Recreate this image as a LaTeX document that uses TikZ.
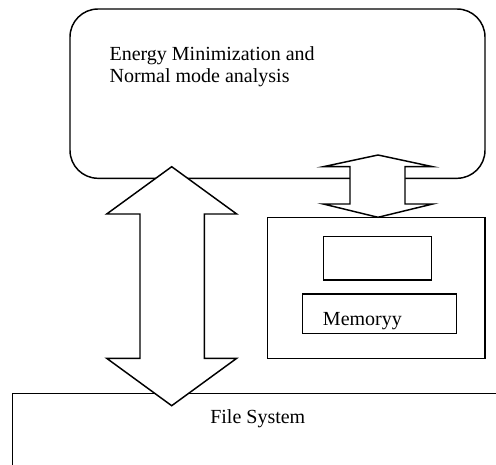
\documentclass[tikz,border=0pt]{standalone}
\usepackage{fontspec}
\setmainfont{Liberation Serif}
\usetikzlibrary{fit}
\tikzset{
  box/.style={draw, line width=1.1pt, inner sep=0pt},
  blockarrow/.style={draw, fill=white, line width=1.1pt, line join=miter},
  lbl/.style={inner sep=0pt, anchor=base west, font=\fontsize{15}{18}\selectfont},
}
\begin{document}
\begin{tikzpicture}[x=0.75pt, y=-0.75pt]
\useasboundingbox (0,0) rectangle (496,464);
\clip (0,0) rectangle (496,464);

% boxes
\node[box, rounded corners=21pt, fit={(70,9)(485,178.3)}] (engine) {};
\node[box, fit={(267.3,217.3)(485,358.3)}] (hw) {};
\node[box, fit={(323.3,236.7)(431.7,280)}] (cpu) {};
\node[box, fit={(302.3,294)(456.7,333.3)}] (mem) {};
\node[box, fit={(12.3,393.3)(520,490)}] (fs) {};

% labels
\node[lbl] (t1) at (109.3,60) {Energy Minimization and};
\node[lbl] (t2) at (109.3,82.7) {Normal mode analysis};
\node[lbl] (memlabel) at (322.7,325) {Memoryy};
\node[lbl] (fslabel) at (210,423.3) {File System};

% block arrow between the engine and the file system
\coordinate (la) at (171.7,166.7);
\coordinate (lb) at (171.7,405.7);
\draw[blockarrow] (la) -- (236.7,214) -- (204.3,214) -- (204.3,358.3)
  -- (236.7,358.3) -- (lb) -- (106.7,358.3) -- (140,358.3) -- (140,214)
  -- (106.7,214) -- cycle;

% block arrow between the engine and the hardware box
\coordinate (ra) at (378,155);
\coordinate (rb) at (378,217.3);
\draw[blockarrow] (ra) -- (432.7,166.7) -- (405,166.7) -- (405,204)
  -- (432.7,204) -- (rb) -- (323.3,204) -- (350,204) -- (350,166.7)
  -- (323.3,166.7) -- cycle;
\end{tikzpicture}
\end{document}
